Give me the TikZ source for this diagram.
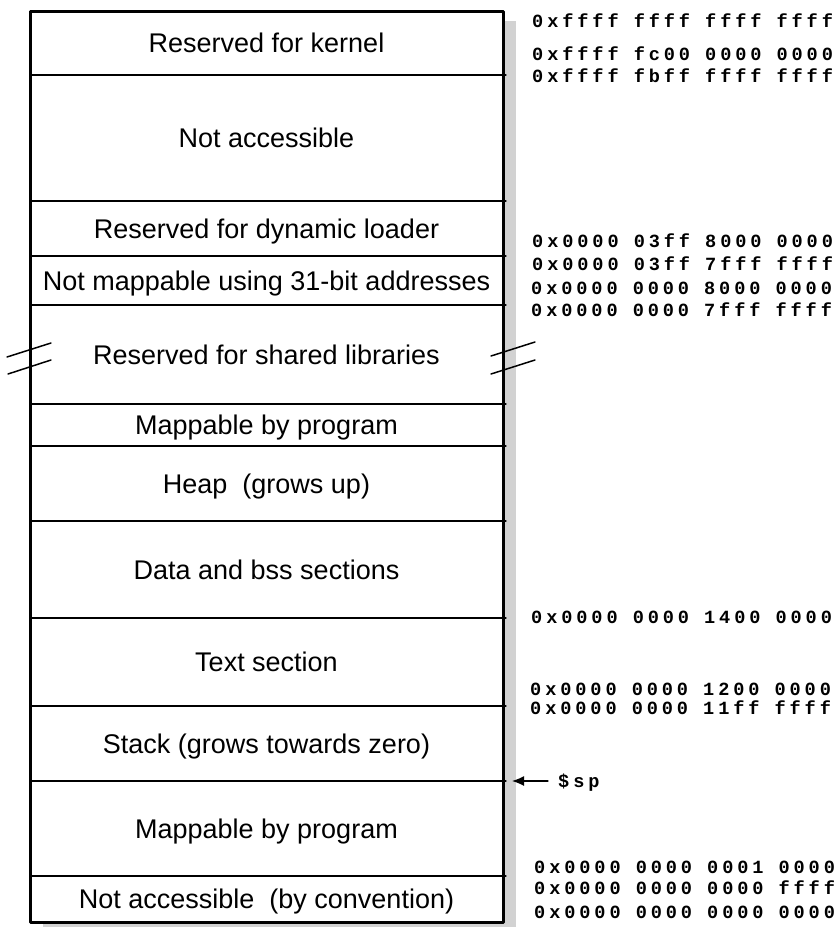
\documentclass[tikz,border=0pt]{standalone}
\usepackage{fontspec}
\setmainfont{Liberation Sans}
\newfontfamily\addrfont[LetterSpace=21]{Liberation Mono}
\usetikzlibrary{arrows.meta}

\begin{document}
\begin{tikzpicture}[x=1pt,y=-1pt,line cap=round,line join=round,
  seg/.style={inner sep=0pt,text height=19.3pt,text depth=0pt,
    font=\fontsize{27}{30}\selectfont},
  addr/.style={anchor=west,inner sep=0pt,text height=12.2pt,text depth=0pt,
    font=\addrfont\bfseries\fontsize{18.6}{21}\selectfont},
  sepline/.style={line width=1.2pt}]

\useasboundingbox (0,0) rectangle (835,927);

% shadow and frame
\coordinate (TL) at (30,11);
\coordinate (BR) at (503,922);
\fill[gray!35] (43,21) rectangle (516,932);
\fill[white] (TL) rectangle (BR);
\draw[line width=3pt] (TL) rectangle (BR);

% region boundaries
\draw[sepline] (30,75) -- (506,75);
\draw[sepline] (30,201) -- (506,201);
\draw[sepline] (30,256) -- (506,256);
\draw[sepline] (30,305) -- (506,305);
\draw[sepline] (30,404) -- (506,404);
\draw[sepline] (30,446) -- (506,446);
\draw[sepline] (30,521) -- (506,521);
\draw[sepline] (30,618) -- (506,618);
\draw[sepline] (30,706) -- (506,706);
\draw[sepline] (30,781) -- (506,781);
\draw[sepline] (30,876) -- (506,876);

% region labels
\node[seg] (kernel) at (266.5,43) {Reserved for kernel};
\node[seg] (noacc) at (266.5,138) {Not accessible};
\node[seg] (loader) at (266.5,228.5) {Reserved for dynamic loader};
\node[seg] (nomap) at (266.5,280.5) {Not mappable using 31-bit addresses};
\node[seg] (shlib) at (266.5,354.5) {Reserved for shared libraries};
\node[seg] (maphi) at (266.5,425) {Mappable by program};
\node[seg] (heap) at (266.5,483.5) {Heap\ \ (grows up)};
\node[seg] (data) at (266.5,569.5) {Data and bss sections};
\node[seg] (text) at (266.5,662) {Text section};
\node[seg] (stack) at (266.5,743.5) {Stack (grows towards zero)};
\node[seg] (maplo) at (266.5,828.5) {Mappable by program};
\node[seg] (zero) at (266.5,899) {Not accessible\ \ (by convention)};

% break marks
\draw[line width=1.5pt] (7,357) -- (51,343);
\draw[line width=1.5pt] (8,374) -- (51,360);
\draw[line width=1.5pt] (491,356) -- (535,342);
\draw[line width=1.5pt] (491,374) -- (535,360);

% addresses
\node[addr] (a1) at (532,21) {0xffff ffff ffff ffff};
\node[addr] (a2) at (532,54) {0xffff fc00 0000 0000};
\node[addr] (a3) at (532,76) {0xffff fbff ffff ffff};
\node[addr] (a4) at (532,241) {0x0000 03ff 8000 0000};
\node[addr] (a5) at (532,264) {0x0000 03ff 7fff ffff};
\node[addr] (a6) at (531,288) {0x0000 0000 8000 0000};
\node[addr] (a7) at (531,310) {0x0000 0000 7fff ffff};
\node[addr] (a8) at (531,617) {0x0000 0000 1400 0000};
\node[addr] (a9) at (530,689) {0x0000 0000 1200 0000};
\node[addr] (a10) at (530,708) {0x0000 0000 11ff ffff};
\node[addr] (a11) at (534,867) {0x0000 0000 0001 0000};
\node[addr] (a12) at (534,888) {0x0000 0000 0000 ffff};
\node[addr] (a13) at (534,912) {0x0000 0000 0000 0000};

% stack pointer
\node[addr] (sp) at (558,781) {\$sp};
\coordinate (sptip) at (512,781);
\draw[line width=1.3pt,-{Latex[length=12pt,width=10pt]}] ([xshift=-10pt]sp.west) -- (sptip);

\end{tikzpicture}
\end{document}
